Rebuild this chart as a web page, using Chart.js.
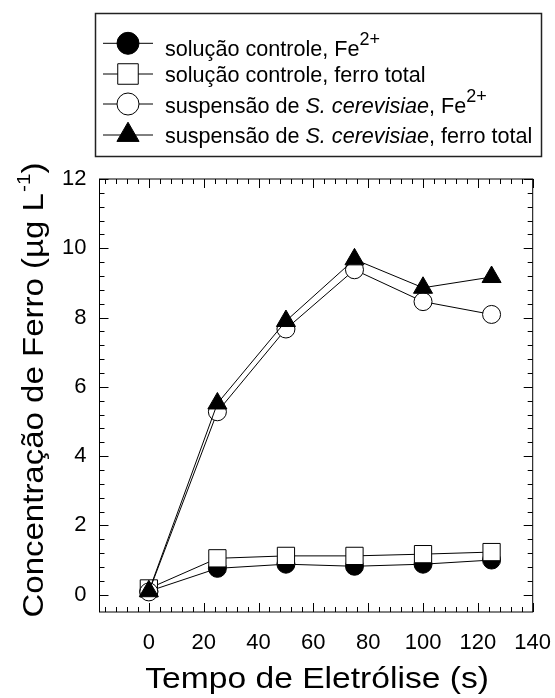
<!DOCTYPE html>
<html>
<head>
<meta charset="utf-8">
<script src="https://cdn.jsdelivr.net/npm/chart.js@4.4.1/dist/chart.umd.min.js"></script>
<style>
  html, body { margin: 0; padding: 0; background: #fff; }
</style>
</head>
<body>
<canvas id="chart" width="555" height="698"></canvas>
<script>
// ---------- Data ----------
const times = [0, 25, 50, 75, 100, 125];
const controlFe2 = [0.1, 0.76, 0.88, 0.82, 0.88, 1.0];
const controlTotal = [0.18, 1.05, 1.12, 1.12, 1.17, 1.23];
const yeastFe2 = [0.08, 5.28, 7.67, 9.38, 8.46, 8.09];
const yeastTotal = [0.1, 5.52, 7.9, 9.68, 8.86, 9.17];

const xTicks = [0, 20, 40, 60, 80, 100, 120, 140];
const yTicks = [0, 2, 4, 6, 8, 10, 12];
const xMinorStep = 4;
const yMinorStep = 0.4;

const FONT = "Arial, 'Liberation Sans', sans-serif";

function pts(arr) {
  return times.map((t, i) => ({ x: t, y: arr[i] }));
}

// legend pieces: [text, style] where style is "n" normal, "i" italic, "s" superscript
const legendRows = [
  [["solução controle, Fe", "n"], ["2+", "s"]],
  [["solução controle, ferro total", "n"]],
  [["suspensão de ", "n"], ["S. cerevisiae", "i"], [", Fe", "n"], ["2+", "s"]],
  [["suspensão de ", "n"], ["S. cerevisiae", "i"], [", ferro total", "n"]],
];

// ---------- Frame, inward ticks, titles, legend ----------

const framePlugin = {
  id: "frame",
  beforeDatasetsDraw(chart) {
    const { ctx, chartArea: a, scales } = chart;
    const xs = scales.x, ys = scales.y;
    ctx.save();
    ctx.strokeStyle = "#000";
    ctx.lineWidth = 1;
    ctx.strokeRect(a.left, a.top, a.right - a.left, a.bottom - a.top);

    const tick = (x1, y1, x2, y2) => {
      ctx.beginPath();
      ctx.moveTo(x1, y1);
      ctx.lineTo(x2, y2);
      ctx.stroke();
    };

    // x ticks, bottom and top
    for (let v = xs.min + ((xMinorStep - (xs.min % xMinorStep)) % xMinorStep); v <= xs.max + 1e-9; v += xMinorStep) {
      const px = Math.round(xs.getPixelForValue(v)) + 0.5;
      const len = xTicks.includes(Math.round(v)) ? 9 : 5;
      tick(px, a.bottom, px, a.bottom - len);
      tick(px, a.top, px, a.top + len);
    }
    // y ticks, left and right
    for (let k = 0; k * yMinorStep <= ys.max + 1e-9; k++) {
      const v = k * yMinorStep;
      const py = Math.round(ys.getPixelForValue(v)) + 0.5;
      const major = Math.abs(v / 2 - Math.round(v / 2)) < 1e-6;
      const len = major ? 9 : 5;
      tick(a.left, py, a.left + len, py);
      tick(a.right, py, a.right - len, py);
    }
    ctx.restore();
  },
  afterDraw(chart) {
    const { ctx, chartArea: a } = chart;
    ctx.save();
    ctx.fillStyle = "#000";

    // x title
    ctx.save();
    ctx.font = `30px ${FONT}`;
    ctx.translate((a.left + a.right) / 2 + 1, 688);
    ctx.scale(1.12, 1);
    ctx.textAlign = "center";
    ctx.textBaseline = "alphabetic";
    ctx.fillText("Tempo de Eletrólise (s)", 0, 0);
    ctx.restore();

    // y title with superscript
    ctx.save();
    const main = "Concentração de Ferro (µg L";
    const sup = "-1";
    const close = ")";
    ctx.font = `30px ${FONT}`;
    const wMain = ctx.measureText(main).width;
    const wClose = ctx.measureText(close).width;
    ctx.font = `19px ${FONT}`;
    const wSup = ctx.measureText(sup).width;
    const total = (wMain + wSup + wClose + 1) * 1.1;
    ctx.translate(43, 390 + total / 2);
    ctx.rotate(-Math.PI / 2);
    ctx.scale(1.1, 1);
    ctx.textBaseline = "alphabetic";
    ctx.textAlign = "left";
    ctx.font = `30px ${FONT}`;
    ctx.fillText(main, 0, 0);
    ctx.font = `19px ${FONT}`;
    ctx.fillText(sup, wMain + 1, -13);
    ctx.font = `30px ${FONT}`;
    ctx.fillText(close, wMain + wSup + 1, 0);
    ctx.restore();

    // legend box
    ctx.strokeStyle = "#222";
    ctx.lineWidth = 1.5;
    ctx.strokeRect(95.5, 13.5, 446, 143);

    const markerY = [43.3, 74, 104, 135];
    const textY = [56, 82, 112.5, 143];
    const legendRadius = { circle: 11, rect: 14.5, triangle: 12.8 };
    chart.data.datasets.forEach((ds, i) => {
      const y = markerY[i];
      ctx.strokeStyle = "#000";
      ctx.lineWidth = 1;
      ctx.beginPath();
      ctx.moveTo(103, y);
      ctx.lineTo(153, y);
      ctx.stroke();
      ctx.fillStyle = ds.pointBackgroundColor;
      ctx.strokeStyle = ds.pointBorderColor;
      Chart.helpers.drawPoint(ctx, {
        pointStyle: ds.pointStyle,
        radius: legendRadius[ds.pointStyle],
        rotation: 0,
        borderWidth: 1,
      }, 128, y);

      let x = 165;
      ctx.fillStyle = "#000";
      ctx.textBaseline = "alphabetic";
      ctx.textAlign = "left";
      legendRows[i].forEach(([txt, style]) => {
        if (style === "s") {
          ctx.font = `18px ${FONT}`;
          ctx.fillText(txt, x, textY[i] - 11);
        } else {
          ctx.font = `${style === "i" ? "italic " : ""}21.6px ${FONT}`;
          ctx.fillText(txt, x, textY[i]);
        }
        x += ctx.measureText(txt).width;
      });
    });
    ctx.restore();
  },
};

// ---------- Chart ----------

function series(label, values, style, filled, radius, order) {
  return {
    label,
    data: pts(values),
    borderColor: "#000",
    borderWidth: 1,
    pointStyle: style,
    pointRadius: radius,
    pointBackgroundColor: filled ? "#000" : "#fff",
    pointBorderColor: "#000",
    pointBorderWidth: 1,
    tension: 0,
    fill: false,
    order,
  };
}

new Chart(document.getElementById("chart"), {
  type: "line",
  data: {
    datasets: [
      series("solução controle, Fe2+", controlFe2, "circle", true, 9, 4),
      series("solução controle, ferro total", controlTotal, "rect", false, 12.2, 3),
      series("suspensão de S. cerevisiae, Fe2+", yeastFe2, "circle", false, 9, 2),
      series("suspensão de S. cerevisiae, ferro total", yeastTotal, "triangle", true, 11, 1),
    ],
  },
  options: {
    responsive: false,
    animation: false,
    devicePixelRatio: 1,
    layout: { padding: { top: 179, right: 22.3, left: 0, bottom: 0 } },
    plugins: { legend: { display: false }, tooltip: { enabled: false } },
    scales: {
      x: {
        type: "linear",
        min: -18,
        max: 140,
        afterBuildTicks: (s) => { s.ticks = xTicks.map((v) => ({ value: v })); },
        afterFit: (s) => {
          s.height = 86;
          s.paddingLeft = 0;
          s.paddingRight = 0;
        },
        grid: { display: false, drawTicks: false },
        border: { display: false },
        ticks: { color: "#000", font: { family: FONT, size: 22 }, padding: 18, maxRotation: 0 },
      },
      y: {
        type: "linear",
        min: -0.5,
        max: 12,
        afterBuildTicks: (s) => { s.ticks = yTicks.map((v) => ({ value: v })); },
        afterFit: (s) => {
          s.width = 99.5;
          s.paddingTop = 0;
          s.paddingBottom = 0;
        },
        grid: { display: false, drawTicks: false },
        border: { display: false },
        ticks: { color: "#000", font: { family: FONT, size: 22 }, padding: 13 },
      },
    },
  },
  plugins: [framePlugin],
});
</script>
</body>
</html>
